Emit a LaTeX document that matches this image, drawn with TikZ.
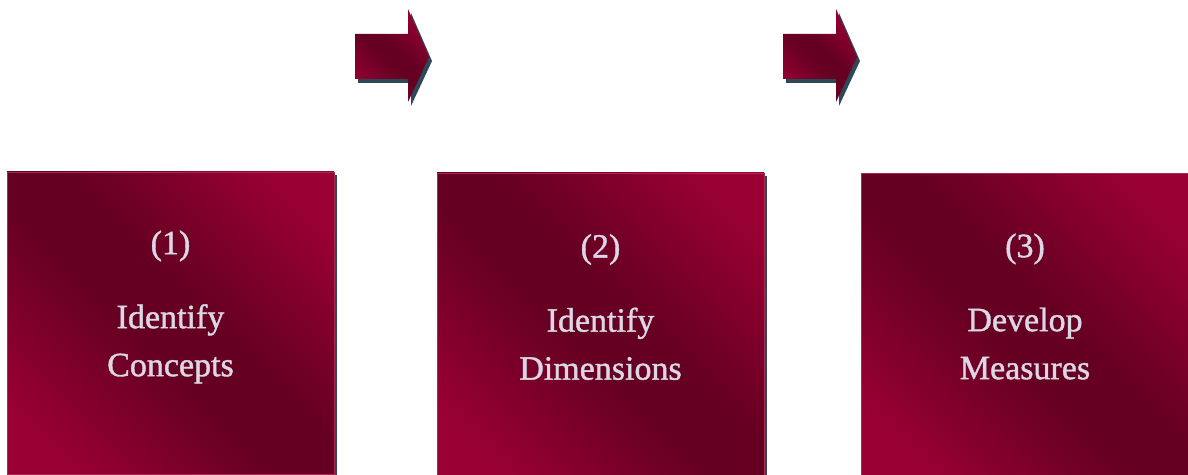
\documentclass[tikz,border=0pt]{standalone}
\usepackage{fontspec}
\setmainfont{Liberation Serif}
\newfontfamily\stepfont[FakeBold=1.2]{Liberation Serif}
\usepackage{xcolor}
\usetikzlibrary{positioning,shadows}

\definecolor{crimsonlight}{RGB}{153,0,51}
\definecolor{crimsondark}{RGB}{102,0,34}
\definecolor{crimsonedge}{RGB}{170,40,80}
\definecolor{slateshadow}{RGB}{47,72,88}
\definecolor{labelgray}{RGB}{220,215,228}

\pgfdeclareverticalshading{crimsonband}{100bp}{color(0bp)=(crimsonlight); color(22bp)=(crimsonlight); color(45bp)=(crimsondark); color(55bp)=(crimsondark); color(78bp)=(crimsonlight); color(100bp)=(crimsonlight)}

\begin{document}
\begin{tikzpicture}[x=1pt,y=1pt,
crimsonshade/.style={
shading=crimsonband,shading angle=-45
},
stepbox/.style={
rectangle,draw=crimsonedge,line width=0.8pt,
crimsonshade,
minimum width=327pt,
minimum height=302pt,
drop shadow={shadow xshift=3pt,shadow yshift=-3pt,fill=slateshadow,opacity=1}
},
steptext/.style={
align=center,text=labelgray,
font=\stepfont\fontsize{34}{48}\selectfont
},
blockarrow/.style={
crimsonshade,
drop shadow={shadow xshift=3pt,shadow yshift=-4pt,fill=slateshadow,opacity=1}
}
]
\useasboundingbox (0,0) rectangle (1188,474);

\node[stepbox] (concepts) at (170.5,151) {};
\node[stepbox] (dimensions) at (600.5,150) {};
\node[stepbox] (measures) at (1025,149.5) {};

\node[steptext] (conceptstext) at ([yshift=16pt]concepts.center) {(1)\\[26pt]Identify\\Concepts};
\node[steptext] (dimensionstext) at ([yshift=17pt]dimensions.center) {(2)\\[26pt]Identify\\Dimensions};
\node[steptext] (measurestext) at ([yshift=18pt]measures.center) {(3)\\[26pt]Develop\\Measures};

% block arrows between the steps
\path[blockarrow] (355,440) -- (408,440) -- (408,465) -- (429,417) -- (408,372) -- (408,395) -- (355,395) -- cycle;
\path[blockarrow] (783,440) -- (836,440) -- (836,465) -- (857,417) -- (836,372) -- (836,395) -- (783,395) -- cycle;

\end{tikzpicture}
\end{document}
